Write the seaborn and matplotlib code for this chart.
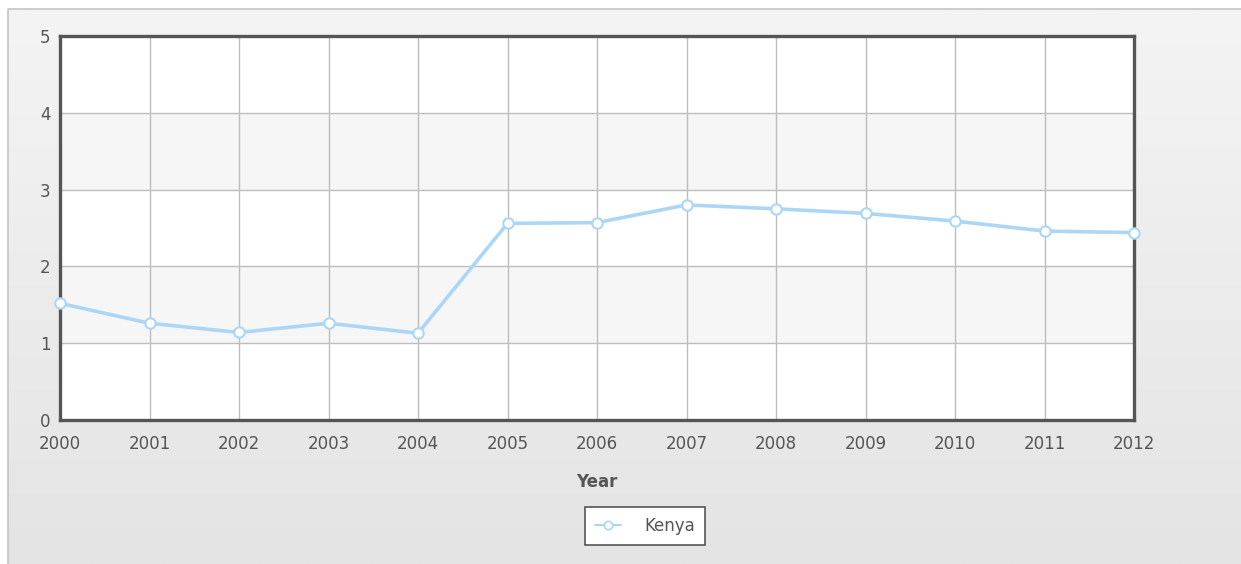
import numpy as np
import pandas as pd
import matplotlib
matplotlib.use("Agg")
import matplotlib.pyplot as plt
import seaborn as sns
from matplotlib.lines import Line2D
from matplotlib.colors import LinearSegmentedColormap

years = [2000, 2001, 2002, 2003, 2004, 2005, 2006, 2007, 2008, 2009, 2010, 2011, 2012]
kenya = [1.52, 1.26, 1.14, 1.26, 1.13, 2.56, 2.57, 2.80, 2.75, 2.69, 2.59, 2.46, 2.44]
series_name = "Kenya"
y_ticks = [0, 1, 2, 3, 4, 5]

sns.set_theme(style="white")
plt.rcParams['font.family'] = ['DejaVu Sans']

W, H = 1241, 564
fig = plt.figure(figsize=(W / 100, H / 100), dpi=100)
fig.patch.set_facecolor('#ffffff')

# background gradient panel
bg = fig.add_axes([0, 0, 1, 1], zorder=-10)
grad = np.linspace(0, 1, 256).reshape(-1, 1)
cmap = LinearSegmentedColormap.from_list('g', ['#f4f4f4', '#e4e4e4'])
bg.imshow(grad, aspect='auto', cmap=cmap, extent=[8, W, H, 9])
bg.set_xlim(0, W)
bg.set_ylim(H, 0)
bg.plot([8, 8, W], [H, 9, 9], color='#c4c4c4', lw=1.2)
bg.axis('off')

left, right, top, bottom = 60, 1134, 36, 420
ax = fig.add_axes([left / W, 1 - bottom / H, (right - left) / W, (bottom - top) / H])
ax.set_facecolor('white')

for lo in [1, 3]:
    ax.axhspan(lo, lo + 1, color='#f6f6f6', zorder=0, lw=0)

df = pd.DataFrame({"Year": years, "Value": kenya, "Country": series_name})
sns.lineplot(data=df, x="Year", y="Value", ax=ax, color='#acd6f6', lw=2.6,
             marker='o', markersize=7.5, markerfacecolor='white',
             markeredgecolor='#acd6f6', markeredgewidth=1.5, clip_on=False,
             zorder=5, legend=False)

ax.set_xlim(years[0], years[-1])
ax.set_ylim(0, 5)
ax.set_xticks(years)
ax.set_xticklabels([str(y) for y in years])
ax.set_yticks(y_ticks)
ax.grid(True, color='#bdbdbd', lw=1.0, zorder=1)
ax.set_axisbelow(True)
for s in ax.spines.values():
    s.set_visible(True)
    s.set_color('#555555')
    s.set_linewidth(2.4)
ax.tick_params(axis='both', length=0, labelsize=12, labelcolor='#555555')
ax.tick_params(axis='x', pad=11)
ax.tick_params(axis='y', pad=7)
ax.set_xlabel("")
ax.set_ylabel("")

fig.text(597 / W, 1 - 482 / H, "Year", ha='center', va='center',
         fontsize=12, fontweight='bold', color='#555555')

handle = Line2D([], [], color='#acd6f6', lw=1.5, marker='o', markersize=6,
                markerfacecolor='white', markeredgecolor='#acd6f6', markeredgewidth=1.2)
leg = fig.legend([handle], [series_name], loc='center',
                 bbox_to_anchor=(645 / W, 1 - 526 / H), frameon=True, fancybox=False,
                 framealpha=1.0, fontsize=12, handlelength=1.6, handletextpad=1.4,
                 borderpad=0.6, borderaxespad=0)
leg.get_frame().set_edgecolor('#555555')
leg.get_frame().set_linewidth(1.2)
leg.get_frame().set_facecolor('white')
for t in leg.get_texts():
    t.set_color('#555555')

fig.savefig("out.png", dpi=100)
